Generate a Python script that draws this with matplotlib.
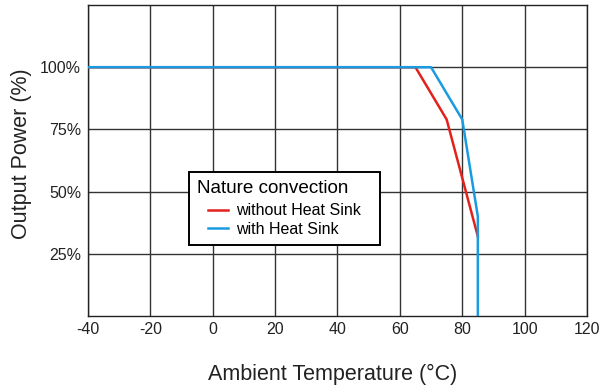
import matplotlib
matplotlib.use('Agg')
import matplotlib.pyplot as plt
from matplotlib.lines import Line2D
from matplotlib.legend_handler import HandlerLine2D

plt.rcParams['font.family'] = ['Liberation Sans', 'DejaVu Sans']
plt.rcParams['axes.unicode_minus'] = False

# derating curves (ambient temperature in C, output power in %)
temp_no_sink = [-40, 65, 75, 85]
power_no_sink = [100, 100, 79, 32]

temp_sink = [-40, 70, 80, 85, 85]
power_sink = [100, 100, 79, 40, 0]

xticks = [-40, -20, 0, 20, 40, 60, 80, 100, 120]
yticks = [25, 50, 75, 100]
ytick_labels = ['25%', '50%', '75%', '100%']

fig = plt.figure(figsize=(6.01, 3.87), dpi=100)
ax = fig.add_axes([0.1464, 0.1835, 0.8303, 0.8035])

red = '#e3211c'
blue = '#1a9be0'

ax.plot(temp_no_sink, power_no_sink, color=red, lw=1.8, zorder=3)
ax.plot(temp_sink, power_sink, color=blue, lw=1.8, zorder=4)

ax.set_xlim(-40, 120)
ax.set_ylim(0, 125)
ax.set_xticks(xticks)
ax.set_yticks(yticks)
ax.set_yticklabels(ytick_labels)
ax.tick_params(length=0, labelsize=11.5, colors='#222222')
ax.tick_params(axis='x', pad=4)
ax.tick_params(axis='y', pad=5)
ax.grid(True, color='#333333', lw=1.0)
ax.set_axisbelow(True)
for s in ax.spines.values():
    s.set_color('#222222')
    s.set_linewidth(1.0)

ax.set_xlabel('Ambient Temperature (°C)', fontsize=15.5, labelpad=20, color='#222222')
ax.xaxis.label.set_x(0.491)
ax.set_ylabel('Output Power (%)', fontsize=15.5, color='#222222')
ax.yaxis.set_label_coords(-0.112, 0.5225)

handles = [Line2D([], [], color=red, lw=1.8), Line2D([], [], color=blue, lw=1.8)]
leg = ax.legend(handles, ['without Heat Sink', 'with Heat Sink'],
                title='Nature convection', loc='upper left',
                bbox_to_anchor=(0.2024, 0.0, 0.383, 0.463), mode='expand',
                borderaxespad=0, fontsize=11.5, title_fontsize=13.6,
                frameon=True, fancybox=False, framealpha=1, edgecolor='black',
                handlelength=1.93, handletextpad=0.5, labelspacing=0.21,
                borderpad=0.5, handler_map={Line2D: HandlerLine2D(xpad=0.68)})
leg.get_frame().set_linewidth(1.4)
leg._legend_box.align = 'left'
leg._legend_box.sep = 4.5

fig.savefig('out.png', dpi=100)
